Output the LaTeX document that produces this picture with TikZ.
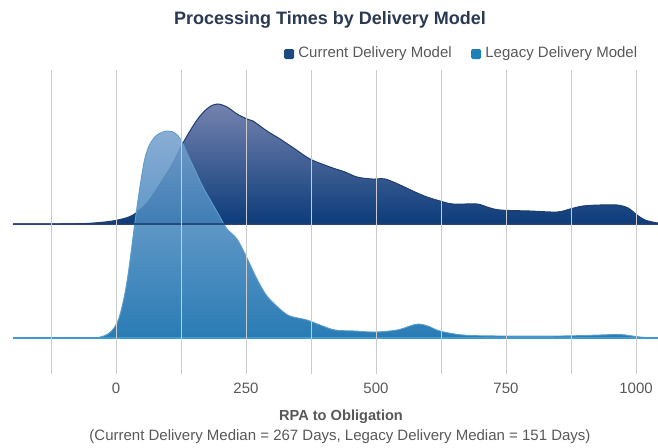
\documentclass[tikz,border=0pt]{standalone}
\usepackage{fontspec}
\setmainfont{Liberation Sans}
\usetikzlibrary{positioning}

\definecolor{titlecol}{HTML}{2B3953}
\definecolor{textcol}{HTML}{585858}
\definecolor{gridcol}{HTML}{CBCBCB}
\definecolor{curtop}{HTML}{7482AE}
\definecolor{curbot}{HTML}{0C3C7A}
\definecolor{curline}{HTML}{1F3D6E}
\definecolor{curkey}{HTML}{1B4A80}
\definecolor{legtop}{HTML}{78A1CE}
\definecolor{legbot}{HTML}{0A68AA}
\definecolor{legline}{HTML}{5E9ECC}
\definecolor{legbase}{HTML}{3F9BCF}
\definecolor{legkey}{HTML}{1E80BA}

\begin{document}
\begin{tikzpicture}[
  x=1pt, y=-1pt,
  title/.style={font=\fontsize{18}{20}\selectfont\bfseries, text=titlecol, inner sep=0pt},
  keybox/.style={minimum size=10pt, inner sep=0pt, rounded corners=1.5pt},
  keytext/.style={font=\fontsize{15}{17}\selectfont, text=textcol, inner sep=0pt},
  ticklab/.style={font=\fontsize{15}{17}\selectfont, text=textcol, inner sep=0pt},
  axtitle/.style={font=\fontsize{14.6}{17}\selectfont\bfseries, text=textcol, inner sep=0pt},
  axnote/.style={font=\fontsize{15}{17}\selectfont, text=textcol, inner sep=0pt},
  current/.style={top color=curtop, bottom color=curbot, draw=curline, line width=1pt},
  legacy/.style={top color=legtop, bottom color=legbot, fill opacity=0.87, draw=legline, line width=0.9pt},
  gridline/.style={gridcol, line width=1pt}
]
  \useasboundingbox (0,0) rectangle (658,447);

  % title and legend
  \node[title] (title) at (330,20) {Processing Times by Delivery Model};
  \node[keybox, fill=curkey] (curkey) at (289,54) {};
  \node[keytext, anchor=west, right=4pt of curkey] (curtext) {Current Delivery Model};
  \node[keybox, fill=legkey] (legkey) at (476,54) {};
  \node[keytext, anchor=west, right=4pt of legkey] (legtext) {Legacy Delivery Model};

  % current delivery model ridge
  \draw[current] plot[smooth, tension=0.55] coordinates {
    (13,224) (60,224) (85,223.5) (105,222) (120,219.5) (133,215) (147,203)
    (160,184) (173,163) (183,143) (197,120) (208,108) (217,104) (227,107)
    (237,114) (247,119) (253,121) (267,131) (280,139) (295,149) (310,159)
    (330,167) (345,172) (357,177) (372,179) (385,179) (400,185) (415,192)
    (427,197) (440,201) (453,204) (477,204) (487,207) (500,210) (530,211)
    (557,212) (570,209) (583,206) (600,205) (617,205) (628,208) (637,215)
    (645,220) (655,222.5) (658,223)} -- (658,224) -- cycle;

  % legacy delivery model ridge
  \draw[legacy] plot[smooth, tension=0.55] coordinates {
    (13,338) (90,338) (100,337) (108,334) (114,328) (119,318) (124,298)
    (128,275) (132,245) (135,222) (138,200) (141,180) (145,158) (150,144)
    (157,135) (167,131) (175,133) (181,140) (187,153) (195,170) (203,187)
    (212,203) (220,217) (227,229) (237,239) (247,258) (257,279) (267,296)
    (280,309) (290,316) (307,320) (320,325) (335,330) (355,331) (375,332)
    (397,330) (410,326) (418,324) (428,326) (440,331) (463,335) (500,336)
    (560,336) (600,335) (620,334.5) (640,337) (658,338)} -- cycle;

  % baselines
  \draw[curline, line width=1.5pt, opacity=0.8] (13,224) -- (658,224);
  \draw[legbase, line width=1.5pt] (13,338) -- (658,338);

  % grid
  \foreach \i in {0,...,9}
    \draw[gridline] ({51+65*\i},70) -- ({51+65*\i},374);

  % axis
  \foreach \i/\lab in {1/0,3/250,5/500,7/750,9/1000}
    \node[ticklab] (tick\lab) at ({51+65*\i},388) {\lab};
  \node[axtitle] (xtitle) at (341,417) {RPA to Obligation};
  \node[axnote] (xnote) at (340,437) {(Current Delivery Median = 267 Days, Legacy Delivery Median = 151 Days)};
\end{tikzpicture}
\end{document}
